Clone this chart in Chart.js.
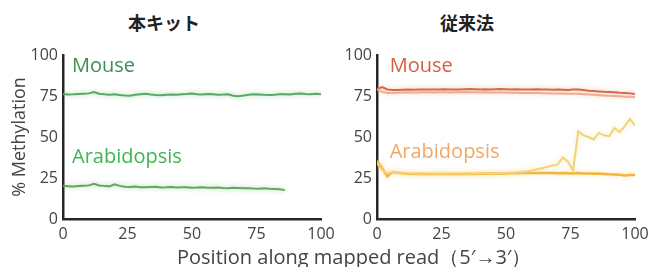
<!DOCTYPE html>
<html>
<head>
<meta charset="utf-8">
<script src="https://cdn.jsdelivr.net/npm/chart.js@4"></script>
<style>
  html, body { margin: 0; padding: 0; background: #fff; overflow: hidden; }
  body { width: 649px; height: 267px; position: relative; font-family: 'Open Sans', sans-serif; }
  .title { position: absolute; top: 9px; line-height: 26px; font: bold 18px 'Noto Sans CJK JP'; color: #222; white-space: nowrap; }
  .wrap { position: absolute; top: 40px; height: 205px; }
  #xTitle { position: absolute; top: 243px; left: 177px; line-height: 28px; font-size: 20px; color: #444; white-space: nowrap; }
</style>
</head>
<body>
<div class="title" style="left:128px">本キット</div>
<div class="title" style="left:440px">従来法</div>
<div class="wrap" style="left:0; width:345px"><canvas id="kitChart"></canvas></div>
<div class="wrap" style="left:320px; width:340px"><canvas id="stdChart"></canvas></div>
<div id="xTitle">Position along mapped read（5′→3′）</div>
<script>
// positions along the read (%)
const positions = [0, 2, 4, 6, 8, 10, 12, 14, 16, 18, 20, 22, 24, 26, 28, 30, 32, 34, 36, 38,
	40, 42, 44, 46, 48, 50, 52, 54, 56, 58, 60, 62, 64, 66, 68, 70, 72, 74, 76, 78,
	80, 82, 84, 86, 88, 90, 92, 94, 96, 98, 100];
const yTicks = [0, 25, 50, 75, 100];

// 本キット
const mouseKit = [76.3, 75.9, 76.0, 76.2, 76.4, 76.6, 77.4, 76.4, 76.0, 75.8,
	76.1, 75.6, 75.3, 75.1, 75.8, 76.1, 76.3, 75.9, 75.6, 75.5,
	75.7, 75.9, 75.8, 76.0, 76.2, 76.5, 76.0, 75.9, 76.2, 76.1,
	75.8, 75.9, 76.1, 75.2, 74.9, 75.3, 75.8, 76.0, 75.9, 75.7,
	75.6, 75.8, 76.1, 76.0, 75.9, 76.3, 76.5, 76.2, 76.0, 76.3, 76.1];
const arabKit = [20.2, 20.0, 19.8, 20.1, 20.3, 20.5, 21.5, 20.4, 20.2, 19.9,
	21.2, 20.2, 19.6, 19.5, 19.8, 19.4, 19.3, 19.5, 19.6, 19.2,
	19.3, 19.5, 19.2, 19.3, 19.4, 19.1, 19.2, 19.4, 19.0, 19.1,
	19.2, 18.9, 18.8, 19.0, 18.9, 18.7, 18.8, 18.6, 18.5, 18.7,
	18.4, 18.3, 18.2, 17.6, null, null, null, null, null, null, null];

// 従来法
const mouseStd1 = [79.2, 80.5, 79.0, 78.6, 78.7, 78.8, 78.9, 78.8, 78.9, 79.0,
	79.0, 78.9, 79.0, 79.1, 79.0, 78.9, 79.0, 79.1, 79.2, 79.1,
	79.0, 79.1, 79.0, 79.1, 79.2, 79.1, 79.0, 79.1, 79.0, 78.9,
	79.0, 79.1, 79.0, 78.9, 78.8, 78.9, 78.8, 78.7, 78.9, 79.0,
	78.6, 78.2, 78.0, 77.8, 77.6, 77.5, 77.3, 77.0, 76.8, 76.6, 76.2];
const mouseStd2 = [79.0, 77.5, 76.9, 76.8, 77.0, 77.1, 77.1, 77.2, 77.2, 77.3,
	77.3, 77.2, 77.3, 77.3, 77.2, 77.3, 77.3, 77.4, 77.3, 77.3,
	77.2, 77.3, 77.2, 77.2, 77.1, 77.1, 77.0, 77.0, 76.9, 76.9,
	76.8, 76.8, 76.7, 76.7, 76.6, 76.6, 76.5, 76.4, 76.4, 76.3,
	76.1, 75.9, 75.7, 75.5, 75.3, 75.1, 75.0, 74.8, 74.6, 74.5, 74.3];
const arabStd1 = [35.5, 31.0, 26.0, 28.6, 28.2, 27.9, 27.6, 27.5, 27.6, 27.5,
	27.4, 27.5, 27.4, 27.4, 27.5, 27.4, 27.5, 27.5, 27.6, 27.5,
	27.6, 27.6, 27.7, 27.7, 27.8, 27.8, 27.9, 27.9, 28.0, 28.0,
	28.1, 28.1, 28.0, 28.1, 28.0, 27.9, 28.0, 27.9, 27.8, 28.0,
	27.8, 27.7, 27.6, 27.7, 27.5, 27.3, 27.2, 27.0, 26.5, 26.8, 26.9];
const arabStd2 = [34.0, 30.0, 27.8, 28.8, 28.4, 28.1, 27.9, 27.8, 27.8, 27.7,
	27.7, 27.7, 27.6, 27.7, 27.7, 27.7, 27.8, 27.8, 27.8, 27.8,
	27.9, 27.9, 27.9, 28.0, 28.0, 28.1, 28.2, 28.3, 28.6, 29.0,
	29.6, 30.3, 31.0, 31.8, 32.6, 33.2, 37.5, 35.0, 29.5, 53.5,
	51.0, 50.0, 48.5, 52.5, 51.0, 50.5, 55.5, 53.0, 56.5, 61.0, 57.0];

Chart.defaults.font.family = "'Open Sans', sans-serif";
Chart.defaults.color = '#444';

const toPoints = vals => positions.map((p, i) => ({ x: p, y: vals[i] }));

function line(vals, color, glow, width) {
	return {
		data: toPoints(vals),
		borderColor: color,
		glowColor: glow,
		borderWidth: width || 2,
		pointRadius: 0,
		tension: 0,
		spanGaps: false
	};
}

// soft halo around the traces
const glowPlugin = {
	id: 'glow',
	beforeDatasetDraw(chart, args) {
		chart.ctx.save();
		chart.ctx.shadowColor = chart.data.datasets[args.index].glowColor;
		chart.ctx.shadowBlur = 5;
	},
	afterDatasetDraw(chart) {
		chart.ctx.restore();
	}
};

// series names written inside the plot
const namesPlugin = {
	id: 'names',
	afterDatasetsDraw(chart, args, opts) {
		const { ctx, scales: { x, y } } = chart;
		ctx.save();
		ctx.font = "20px 'Open Sans'";
		ctx.textBaseline = 'alphabetic';
		opts.items.forEach(it => {
			ctx.fillStyle = it.color;
			ctx.fillText(it.text, x.getPixelForValue(it.x), y.getPixelForValue(it.y));
		});
		ctx.restore();
	}
};

function makeOptions(yWidth, padRight, showTitle, names) {
	return {
		responsive: true,
		maintainAspectRatio: false,
		animation: false,
		layout: { padding: { top: 15, right: padRight, bottom: 0, left: 0 } },
		plugins: {
			legend: { display: false },
			tooltip: { enabled: false },
			names: { items: names }
		},
		scales: {
			x: {
				type: 'linear',
				min: 0,
				max: 100,
				grid: { display: false, drawTicks: false },
				border: { display: true, color: '#2a2424', width: 2.5 },
				ticks: { stepSize: 25, padding: 6, font: { size: 16 }, color: '#444' },
				afterFit: s => { s.height = 26; }
			},
			y: {
				min: 0,
				max: 100,
				grid: { display: false, drawTicks: false },
				border: { display: true, color: '#2a2424', width: 2.5 },
				afterBuildTicks: s => { s.ticks = yTicks.map(v => ({ value: v })); },
				ticks: { padding: 5, font: { size: 16 }, color: '#444' },
				title: {
					display: showTitle,
					text: '% Methylation',
					font: { size: 18 },
					color: '#444',
					padding: { top: 9, bottom: 0 }
				},
				afterFit: s => { s.width = yWidth; }
			}
		}
	};
}

new Chart(document.getElementById('kitChart'), {
	type: 'line',
	data: {
		datasets: [
			line(mouseKit, '#5aa866', 'rgba(110,190,120,0.6)'),
			line(arabKit, '#62a85a', 'rgba(120,190,110,0.6)')
		]
	},
	options: makeOptions(63, 24, true, [
		{ text: 'Mouse', x: 3.5, y: 89.6, color: '#3e8d52' },
		{ text: 'Arabidopsis', x: 3.5, y: 34.3, color: '#3db552' }
	]),
	plugins: [glowPlugin, namesPlugin]
});

new Chart(document.getElementById('stdChart'), {
	type: 'line',
	data: {
		datasets: [
			line(mouseStd2, '#eeab95', 'rgba(240,170,150,0.5)'),
			line(mouseStd1, '#d4673f', 'rgba(230,140,110,0.5)'),
			line(arabStd2, '#f3d27a', 'rgba(245,215,130,0.5)'),
			line(arabStd1, '#f1b53c', 'rgba(245,200,110,0.5)', 2.5)
		]
	},
	options: makeOptions(57, 25, false, [
		{ text: 'Mouse', x: 4.9, y: 89.5, color: '#d3603f' },
		{ text: 'Arabidopsis', x: 4.9, y: 37, color: '#f4a764' }
	]),
	plugins: [glowPlugin, namesPlugin]
});
</script>
</body>
</html>
